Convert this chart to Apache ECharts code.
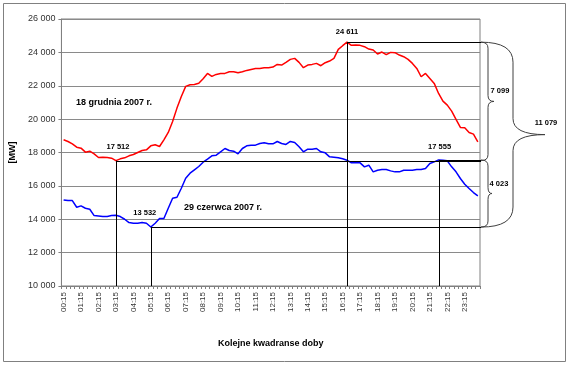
<!DOCTYPE html>
<html><head><meta charset="utf-8">
<script src="https://cdn.jsdelivr.net/npm/echarts@6/dist/echarts.min.js"></script>
<style>html,body{margin:0;padding:0;background:#fff}#c{width:570px;height:365px}</style>
</head><body><div id="c"></div>
<script>
// Categories: consecutive quarter-hours 00:15 ... 24:00
const categories = [];
for (let k = 1; k <= 96; k++) {
  const m = k * 15, h = Math.floor(m / 60), mm = m % 60;
  categories.push(String(h).padStart(2, '0') + ':' + String(mm).padStart(2, '0'));
}
const yTicks = { min: 10000, max: 26000, interval: 2000 };

const winterName = '18 grudnia 2007 r.';
const winter = [18760,18660,18520,18320,18260,18020,18080,17920,17700,17720,17700,17660,17512,17620,17680,17800,17880,18000,18120,18160,18400,
  18460,18360,18760,19200,19860,20660,21360,21960,22060,22080,22150,22420,
  22740,22560,22680,22740,22740,22840,22840,22780,22840,22920,22980,23040,23040,23080,23080,23120,23280,23240,23400,23580,23640,23400,23080,23240,23280,23340,23200,23380,23480,23640,24180,24400,
  24611,24420,24440,24420,24340,24200,24140,23900,24020,23860,24000,23980,23840,23740,23580,23340,23040,22540,22740,22440,22140,21540,21080,20840,20480,19980,19500,19480,19200,19100,18640];

const summerName = '29 czerwca 2007 r.';
const summer = [15160,15120,15120,14720,14800,14660,14600,14220,14200,14160,14160,14220,14240,14160,14000,13800,13760,13760,13800,13760,13532,
  13760,14040,14040,14660,15260,15320,15860,16460,16760,16960,17160,17420,
  17600,17800,17840,18040,18240,18120,18080,17920,18240,18400,18440,18440,18540,18580,18520,18520,18660,18540,18480,18660,18600,18340,18040,18200,18200,18240,18040,17980,17740,17720,17680,17620,
  17540,17380,17380,17380,17140,17240,16840,16940,16980,16980,16900,16840,16840,16940,16940,16940,16980,16980,17040,17340,17440,17555,17530,17500,17140,16840,16440,16100,15840,15600,15400];

// Marked points (indices into the series above)
const winterMinIdx = 12, winterMaxIdx = 65, summerMinIdx = 20, summerEveIdx = 86;

const fmt = v => String(Math.round(v)).replace(/\B(?=(\d{3})+(?!\d))/g, ' ');
const FONT = '"Liberation Sans", Arial, sans-serif';

const chart = echarts.init(document.getElementById('c'), null, { renderer: 'canvas' });
const GRID = { left: 58, top: 19, right: 90, bottom: 79 };
chart.setOption({
  animation: false,
  backgroundColor: '#fff',
  grid: Object.assign({ show: true, borderColor: '#808080', borderWidth: 1, backgroundColor: 'transparent' }, GRID),
  xAxis: {
    type: 'category', data: categories, boundaryGap: true,
    name: 'Kolejne kwadranse doby', nameLocation: 'middle', nameGap: 53,
    nameTextStyle: { fontFamily: FONT, fontWeight: 'bold', fontSize: 9, color: '#000' },
    axisLine: { lineStyle: { color: '#808080', width: 1 } },
    axisTick: { show: true, interval: 0, length: 3, lineStyle: { color: '#808080' } },
    axisLabel: { interval: 3, rotate: 90, fontFamily: FONT, fontSize: 8, color: '#333', margin: 6 },
    splitLine: { show: false }
  },
  yAxis: {
    type: 'value', min: yTicks.min, max: yTicks.max, interval: yTicks.interval,
    name: '[MW]', nameLocation: 'middle', nameGap: 37, nameRotate: 90,
    nameTextStyle: { fontFamily: FONT, fontWeight: 'bold', fontSize: 9, color: '#000' },
    axisLine: { show: true, lineStyle: { color: '#808080', width: 1 } },
    axisTick: { show: true, length: 3, lineStyle: { color: '#808080' } },
    axisLabel: { fontFamily: FONT, fontSize: 9, color: '#333', margin: 6, formatter: v => fmt(v) },
    splitLine: { show: true, lineStyle: { color: '#8a8a8a', width: 1 } }
  },
  series: [
    { name: winterName, type: 'line', data: winter, symbol: 'none', silent: true,
      lineStyle: { color: '#ff0000', width: 1.5 }, z: 3 },
    { name: summerName, type: 'line', data: summer, symbol: 'none', silent: true,
      lineStyle: { color: '#0000ff', width: 1.5 }, z: 3 }
  ]
});

const P = (i, v) => chart.convertToPixel({ xAxisIndex: 0, yAxisIndex: 0 }, [i, v]);
const xR = 570 - GRID.right;
const g = [];
const LINE = '#000';
function line(x1, y1, x2, y2, c) {
  g.push({ type: 'line', silent: true, z: 10, shape: { x1, y1, x2, y2 }, style: { stroke: c || LINE, lineWidth: 1 } });
}
function txt(x, y, t, size, align) {
  g.push({ type: 'text', silent: true, z: 11, x, y,
    style: { text: t, font: 'bold ' + size + 'px ' + FONT, fill: '#000', align: align || 'center', verticalAlign: 'middle' } });
}
function curve(x1, y1, cx, cy, x2, y2) {
  g.push({ type: 'bezierCurve', silent: true, z: 10, shape: { x1, y1, x2, y2, cpx1: cx, cpy1: cy },
    style: { stroke: '#404040', lineWidth: 1, fill: null } });
}
function brace(x0, yT, yB, w, tip, r, rt) {
  const xm = x0 + w, ym = (yT + yB) / 2;
  curve(x0, yT, xm, yT, xm, yT + r);
  line(xm, yT + r, xm, ym - rt, '#404040');
  curve(xm, ym - rt, xm, ym, xm + tip, ym);
  curve(xm + tip, ym, xm, ym, xm, ym + rt);
  line(xm, ym + rt, xm, yB - r, '#404040');
  curve(xm, yB - r, xm, yB, x0, yB);
  return ym;
}

const pts = [
  { i: winterMinIdx, v: winter[winterMinIdx], dx: 2, dy: -14 },
  { i: winterMaxIdx, v: winter[winterMaxIdx], dx: 0, dy: -10 },
  { i: summerMinIdx, v: summer[summerMinIdx], dx: -6, dy: -14 },
  { i: summerEveIdx, v: summer[summerEveIdx], dx: 1, dy: -13 }
];
pts.forEach(p => {
  const [x, y] = P(p.i, p.v);
  const y0 = P(p.i, yTicks.min)[1];
  line(Math.round(x) + 0.5, y0, Math.round(x) + 0.5, y);
  line(x, Math.round(y) + 0.5, xR + 1, Math.round(y) + 0.5);
  txt(x + p.dx, y + p.dy, fmt(p.v), 7.5);
});

const yWmax = P(0, winter[winterMaxIdx])[1], yWmin = P(0, winter[winterMinIdx])[1];
const ySmin = P(0, summer[summerMinIdx])[1], ySeve = P(0, summer[summerEveIdx])[1];
let ym = brace(xR + 1, yWmax, yWmin, 7, 6, 6, 6);
txt(xR + 20, ym - 10, fmt(winter[winterMaxIdx] - winter[winterMinIdx]), 7.5);
ym = brace(xR + 1, ySeve, ySmin, 7, 4, 6, 6);
txt(xR + 19, ym - 9.5, fmt(summer[summerEveIdx] - summer[summerMinIdx]), 7.5);
ym = brace(xR + 1, yWmax, ySmin, 32, 32, 20, 16);
txt(xR + 66, ym - 11.5, fmt(winter[winterMaxIdx] - summer[summerMinIdx]), 7.5);

txt(76, 103, winterName, 9, 'left');
txt(184, 208, summerName, 9, 'left');

g.push({ type: 'rect', silent: true, z: 0, shape: { x: 3.5, y: 3.5, width: 562, height: 358 },
  style: { stroke: '#808080', lineWidth: 1, fill: null } });

chart.setOption({ graphic: g });
</script></body></html>
